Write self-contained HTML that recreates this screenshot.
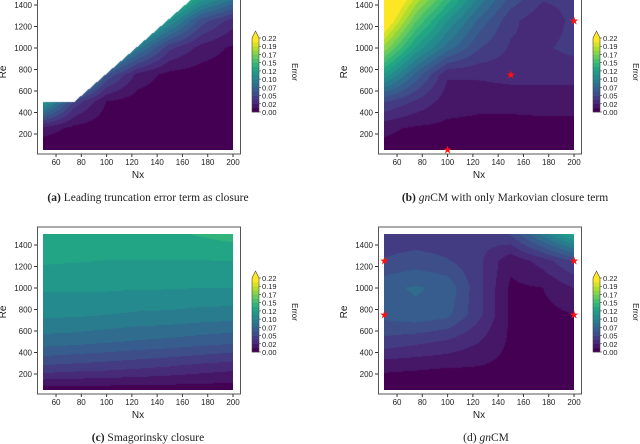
<!DOCTYPE html>
<html><head><meta charset="utf-8">
<style>
body{margin:0;background:#fff;}
#wrap{position:relative;width:640px;height:444px;overflow:hidden;font-family:"Liberation Sans",sans-serif;}
canvas{position:absolute;}
svg{position:absolute;left:0;top:0;}
</style></head>
<body>
<div id="wrap">
<svg id="s" width="640" height="444"></svg>
</div>
<script>
// shared grid
const nxGrid=[50,75,100,125,150,175,200];
const reGrid=[50,250,500,750,1000,1250,1500];
const xTicks=[60,80,100,120,140,160,180,200];
const yTicks=[200,400,600,800,1000,1200,1400];
const cbTicks=["0.00","0.02","0.05","0.07","0.10","0.12","0.15","0.17","0.19","0.22"];
// panel a (rows by Re ascending)
const errA=[
[0,0,0,0,0,0,0],
[0.02,0.008,0.004,0.003,0.003,0.003,0.003],
[0.12,0.045,0.012,0.006,0.004,0.003,0.003],
[0.2,0.15,0.06,0.02,0.008,0.006,0.005],
[0.22,0.2,0.15,0.09,0.04,0.02,0.01],
[0.22,0.22,0.2,0.16,0.11,0.055,0.03],
[0.22,0.22,0.22,0.22,0.18,0.13,0.1]];
const maskNx=[50,75,172,200];
const maskRe=[500,500,1500,1500];
const errB=[
[0.008,0.008,0.008,0.008,0.008,0.008,0.008],
[0.015,0.01,0.009,0.009,0.009,0.009,0.009],
[0.05,0.035,0.018,0.015,0.015,0.016,0.016],
[0.12,0.07,0.026,0.027,0.03,0.03,0.03],
[0.18,0.12,0.08,0.05,0.035,0.035,0.04],
[0.23,0.16,0.11,0.07,0.04,0.028,0.04],
[0.26,0.2,0.15,0.1,0.06,0.04,0.04]];
const starsB=[[100,50],[150,750],[200,1250]];
const errC=[
[0.005,0.005,0.005,0.005,0.005,0.005,0.005],
[0.045,0.042,0.04,0.037,0.034,0.03,0.027],
[0.08,0.078,0.075,0.072,0.07,0.067,0.064],
[0.1,0.1,0.098,0.096,0.095,0.093,0.092],
[0.112,0.112,0.112,0.111,0.111,0.11,0.11],
[0.124,0.123,0.122,0.122,0.122,0.122,0.122],
[0.128,0.128,0.13,0.13,0.132,0.136,0.14]];
const errD=[
[0.005,0.005,0.005,0.005,0.005,0.005,0.005],
[0.014,0.013,0.012,0.011,0.008,0.008,0.008],
[0.045,0.04,0.035,0.025,0.01,0.008,0.008],
[0.065,0.07,0.065,0.04,0.01,0.008,0.012],
[0.07,0.075,0.07,0.04,0.01,0.012,0.025],
[0.05,0.055,0.05,0.04,0.015,0.03,0.05],
[0.04,0.04,0.04,0.04,0.05,0.09,0.13]];
const starsD=[[50,750],[50,1250],[200,750],[200,1250]];

const vAnch=["#440154","#482475","#414487","#355f8d","#2a788e","#21918c","#22a884","#44bf70","#7ad151","#bddf26","#fde725"];
function hx(h){return [1,3,5].map(i=>parseInt(h.substr(i,2),16));}
function vir(t){t=Math.max(0,Math.min(1,t))*10;const i=Math.min(9,Math.floor(t)),f=t-i;const a=hx(vAnch[i]),b=hx(vAnch[i+1]);
 return 'rgb('+a.map((v,k)=>Math.round(v+(b[k]-v)*f)).join(',')+')';}
const NB=18,STEP=0.22/NB;
const bandCol=[];for(let k=0;k<NB;k++)bandCol.push(vir(k/(NB-1)));bandCol.push('#fde725');
const NS="http://www.w3.org/2000/svg";
const svg=document.getElementById('s');
const wrap=document.getElementById('wrap');
function el(t,a,p){const e=document.createElementNS(NS,t);for(const k in a)e.setAttribute(k,a[k]);(p||svg).appendChild(e);return e;}
function seg(g,v){let i=0;while(i<g.length-2&&v>g[i+1])i++;return [i,Math.max(0,Math.min(1,(v-g[i])/(g[i+1]-g[i])))];}
function interp(z,nx,re){const [i,tx]=seg(nxGrid,nx);const [j,ty]=seg(reGrid,re);
 const a=z[j][i]*(1-tx)+z[j][i+1]*tx,b=z[j+1][i]*(1-tx)+z[j+1][i+1]*tx;return a*(1-ty)+b*ty;}
function maskTop(nx){const [i,t]=seg(maskNx,nx);return maskRe[i]*(1-t)+maskRe[i+1]*t;}

function panel(ox,oy,z,opts){
 const X=v=>ox+43.4+(v-50)*1.264, Y=v=>oy+134-(v-200)*0.1075;
 const x0=X(50),x1=X(200),y0=Y(1500),y1=Y(50);
 const g=el('g',{});  
 const cv=document.createElement('canvas');
 const W=Math.round(x1-x0),H=Math.round(y1-y0);
 cv.width=W;cv.height=H;cv.style.left=Math.round(x0)+'px';cv.style.top=Math.round(y0)+'px';
 
 wrap.insertBefore(cv,svg);
 const c=cv.getContext('2d');
 for(let py=0;py<H;py++){for(let px=0;px<W;px++){
  const nx=50+(px+0.5)/W*150, re=1500-(py+0.5)/H*1450;
  if(opts.mask&&re>maskTop(nx))continue;
  const v=interp(z,nx,re);let k=Math.floor(v/STEP);k=Math.max(0,Math.min(NB,k));
  c.fillStyle=bandCol[k];c.fillRect(px,py,1,1);}}
 el('rect',{x:ox+37.5,y:oy-13,width:203,height:167,fill:'none',stroke:'#555','stroke-width':1},g);
 xTicks.forEach(t=>{el('line',{x1:X(t),x2:X(t),y1:oy+154,y2:oy+157,stroke:'#333'},g);
  const tx=el('text',{x:X(t),y:oy+165,'font-size':8,'text-anchor':'middle',fill:'#222'},g);tx.textContent=t;});
 yTicks.forEach(t=>{el('line',{x1:ox+34,x2:ox+37,y1:Y(t),y2:Y(t),stroke:'#333'},g);
  const tx=el('text',{x:ox+32,y:Y(t)+3,'font-size':8,'text-anchor':'end',fill:'#222'},g);tx.textContent=t;});
 const xl=el('text',{x:ox+138,y:oy+178,'font-size':10,'text-anchor':'middle',fill:'#222'},g);xl.textContent='Nx';
 
 const yl=el('text',{x:0,y:0,'font-size':10,'text-anchor':'middle',fill:'#222',transform:`translate(${ox+6},${oy+72}) rotate(-90)`},g);yl.textContent='Re';
 
 (opts.stars||[]).forEach(s=>{const st=el('text',{x:X(s[0]),y:Y(s[1])+3.5,'font-size':11,'text-anchor':'middle',fill:'#ff1010'},g);st.textContent='★';
  });
 const cb=el('g',{},g);
 const cx=ox+252,ctop=oy+38,cbot=oy+112,bh=(cbot-ctop)/NB;
 for(let k=0;k<NB;k++)el('rect',{x:cx,y:cbot-(k+1)*bh,width:7,height:bh+0.3,fill:bandCol[k]},cb);
 el('path',{d:`M${cx} ${ctop} L${cx+3.5} ${oy+31} L${cx+7} ${ctop} Z`,fill:'#fde725'},cb);
 el('path',{d:`M${cx} ${cbot} L${cx} ${ctop} L${cx+3.5} ${oy+31} L${cx+7} ${ctop} L${cx+7} ${cbot} Z`,fill:'none',stroke:'#444','stroke-width':0.6},cb);
 cbTicks.forEach((t,k)=>{const yy=cbot-k*(cbot-ctop)/9;el('line',{x1:cx+7,x2:cx+9,y1:yy,y2:yy,stroke:'#333','stroke-width':0.6},cb);
  const tx=el('text',{x:cx+10,y:yy+3,'font-size':7.5,fill:'#222'},cb);tx.textContent=t;});
 const et=el('text',{x:0,y:0,'font-size':8,'text-anchor':'middle',fill:'#222',transform:`translate(${ox+292},${oy+72}) rotate(90)`},cb);et.textContent='Error';
 const cap=el('text',{x:opts.cx,y:oy+201,'font-size':11.5,'text-anchor':'middle',fill:'#222','font-family':'"Liberation Serif",serif'},g);
 
 cap.innerHTML=opts.cap;
}
panel(0,0,errA,{name:'panel-a',mask:true,cx:148,cap:'<tspan font-weight="bold">(a)</tspan> Leading truncation error term as closure'});
panel(341,0,errB,{name:'panel-b',stars:starsB,cx:505,cap:'<tspan font-weight="bold">(b)</tspan> <tspan font-style="italic">gn</tspan>CM with only Markovian closure term'});
panel(0,240,errC,{name:'panel-c',cx:148,cap:'<tspan font-weight="bold">(c)</tspan> Smagorinsky closure'});
panel(341,240,errD,{name:'panel-d',stars:starsD,cx:486,cap:'(d) <tspan font-style="italic">gn</tspan>CM'});
</script>
</body></html>
